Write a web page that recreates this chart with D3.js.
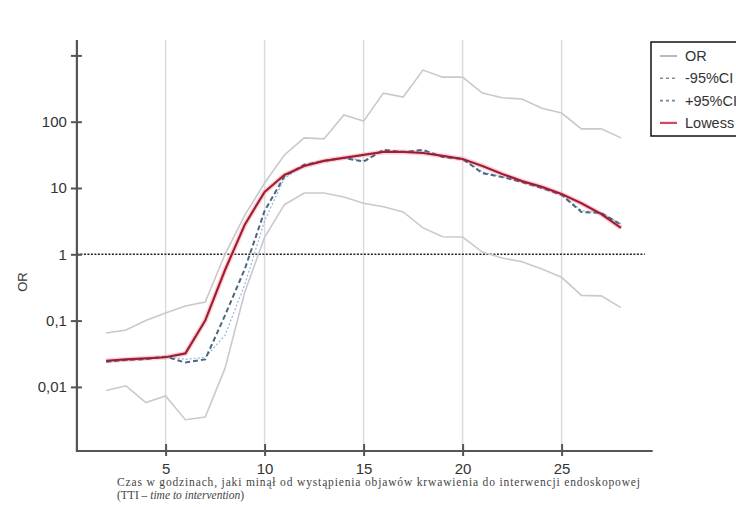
<!DOCTYPE html>
<html>
<head>
<meta charset="utf-8">
<script src="https://cdn.jsdelivr.net/npm/d3@7"></script>
<style>
	body { margin: 0; background: #fff; }
	svg text { font-family: "Liberation Sans", Arial, sans-serif; fill: #333; }
	.caption { font-family: "Liberation Serif", "Times New Roman", serif; fill: #444; }
</style>
</head>
<body>
<div id="chart"></div>
<script>

// hours since onset of bleeding
const hours = [2,3,4,5,6,7,8,9,10,11,12,13,14,15,16,17,18,19,20,21,22,23,24,25,26,27,28];

// upper grey band
const upperOR = [0.065,0.072,0.10,0.13,0.166,0.19,1.0,3.9,11.9,31.5,57,55,126,102,270,235,600,470,470,270,230,220,160,135,78,78,57];

// lower grey band
const lowerOR = [0.0088,0.0104,0.0058,0.0073,0.0032,0.0035,0.019,0.27,1.8,5.6,8.4,8.4,7.3,5.9,5.2,4.35,2.5,1.84,1.82,1.08,0.88,0.77,0.6,0.45,0.24,0.236,0.157];

// dashed dark series
const dashedOR = [0.024,0.0255,0.0263,0.0286,0.0233,0.026,0.12,0.6,4.5,15,22.4,25.6,28.5,25,37.5,35,37.5,29.4,27.4,16.8,14.6,12.3,10,7.9,4.35,4.2,2.8];

// dotted light blue series
const dottedOR = [0.024,0.0255,0.0263,0.0286,0.026,0.028,0.06,0.35,3.2,14,22,25.6,28.5,26,36,35,36,30,27.4,17.5,14.8,12.5,10.2,8,4.6,4.2,2.9];

// lowess
const lowess = [0.0248,0.026,0.027,0.028,0.032,0.10,0.58,2.8,8.7,15.7,21.5,25.6,28.5,31.5,35,35,33.7,30.5,27.4,21.5,16.3,12.7,10.4,8.1,5.9,4.05,2.5];

const xTicks = [5,10,15,20,25];
const yTicks = [0.01,0.1,1,10,100,1000];
const yTickLabels = ["0,01","0,1","1","10","100",""];

const legendItems = ["OR","-95%CI","+95%CI","Lowess"];

const w = 736;
const h = 507;

const x = d3.scaleLinear()
	.domain([0,30])
	.range([66.6,660.6]);

const y = d3.scaleLog()
	.domain([0.001,1000])
	.range([453.2,55.4]);

const xStart = 0.52, xEnd = 29.6;
const yTop = 40, yBottom = 451;

const svg = d3.select("#chart")
	.append("svg")
	.attr("width",w)
	.attr("height",h);

// vertical grid
svg.selectAll(".grid")
	.data(xTicks)
	.enter()
	.append("line")
	.attr("class","grid")
	.attr("x1",d=>x(d))
	.attr("x2",d=>x(d))
	.attr("y1",yTop)
	.attr("y2",yBottom)
	.attr("stroke","#dcdcdc")
	.attr("stroke-width",1.5);

// reference line at OR = 1
svg.append("line")
	.attr("x1",x(xStart))
	.attr("x2",x(29.2))
	.attr("y1",y(1))
	.attr("y2",y(1))
	.attr("stroke","#222")
	.attr("stroke-width",1.5)
	.attr("stroke-dasharray","2,1.5");

// lines
const line = vals => d3.line()
	.x((d,i)=>x(hours[i]))
	.y(d=>y(d))(vals);

svg.append("path").attr("d",line(upperOR))
	.attr("fill","none").attr("stroke","#c9c9c9").attr("stroke-width",1.6);
svg.append("path").attr("d",line(lowerOR))
	.attr("fill","none").attr("stroke","#c9c9cf").attr("stroke-width",1.6);

svg.append("path").attr("d",line(lowess))
	.attr("fill","none").attr("stroke","#f4b6bd").attr("stroke-width",5).attr("opacity",0.6);

svg.append("path").attr("d",line(dottedOR))
	.attr("fill","none").attr("stroke","#8fb8dc").attr("stroke-width",1.2)
	.attr("stroke-dasharray","2,2");

svg.append("path").attr("d",line(dashedOR))
	.attr("fill","none").attr("stroke","#4d6680").attr("stroke-width",2)
	.attr("stroke-dasharray","5,3");

svg.append("path").attr("d",line(lowess))
	.attr("fill","none").attr("stroke","#b8223a").attr("stroke-width",2.2);
svg.append("path").attr("d",line(lowess))
	.attr("fill","none").attr("stroke","#5a1a2a").attr("stroke-width",0.8).attr("opacity",0.6);

// y axis
const yAxis = svg.append("g")
	.attr("transform",`translate(${x(xStart)},0)`)
	.call(d3.axisLeft(y).tickValues(yTicks).tickSize(6).tickPadding(4)
		.tickFormat((d,i)=>yTickLabels[i]));
yAxis.select(".domain").remove();
yAxis.selectAll(".tick line").attr("x1",5).attr("x2",-6).attr("stroke","#555").attr("stroke-width",2);
yAxis.selectAll(".tick text").attr("font-size",15).attr("fill","#333")
	.style("font-family","'Liberation Sans', Arial, sans-serif");

svg.append("line")
	.attr("x1",x(xStart)).attr("x2",x(xStart))
	.attr("y1",yTop).attr("y2",yBottom)
	.attr("stroke","#555").attr("stroke-width",2.2);

// x axis
const xAxis = svg.append("g")
	.attr("transform",`translate(0,${yBottom})`)
	.call(d3.axisBottom(x).tickValues(xTicks).tickSize(6).tickPadding(6));
xAxis.select(".domain").remove();
xAxis.selectAll(".tick line").attr("y1",-7).attr("y2",5).attr("stroke","#555").attr("stroke-width",2);
xAxis.selectAll(".tick text").attr("font-size",15).attr("fill","#333")
	.style("font-family","'Liberation Sans', Arial, sans-serif");

svg.append("line")
	.attr("x1",x(xStart)-1).attr("x2",x(xEnd))
	.attr("y1",yBottom).attr("y2",yBottom)
	.attr("stroke","#555").attr("stroke-width",2.2);

// y title
svg.append("text")
	.attr("transform","translate(27,282) rotate(-90)")
	.attr("text-anchor","middle")
	.attr("font-size",13)
	.text("OR");

// caption
svg.append("text")
	.attr("class","caption")
	.attr("x",117).attr("y",486)
	.attr("font-size",11.5)
	.attr("textLength",523).attr("lengthAdjust","spacing")
	.text("Czas w godzinach, jaki minął od wystąpienia objawów krwawienia do interwencji endoskopowej");
const cap2 = svg.append("text")
	.attr("class","caption")
	.attr("x",117).attr("y",499)
	.attr("font-size",11.5);
cap2.append("tspan").text("(TTI – ");
cap2.append("tspan").attr("font-style","italic").text("time to intervention");
cap2.append("tspan").text(")");

// legend
const lg = svg.append("g").attr("transform","translate(651,42)");
lg.append("rect")
	.attr("x",0).attr("y",0)
	.attr("width",100).attr("height",94)
	.attr("fill","#fff").attr("stroke","#111").attr("stroke-width",1.5);

const legendStyles = [
	{stroke:"#b8b8b8",dash:null,width:2},
	{stroke:"#7d90a4",dash:"3,3",width:1.6},
	{stroke:"#6d88a4",dash:"3,3",width:1.6},
	{stroke:"#d2485c",dash:null,width:2.2}
];

const items = lg.selectAll(".lg")
	.data(legendItems)
	.enter()
	.append("g")
	.attr("transform",(d,i)=>`translate(0,${14+i*22.3})`);
items.append("line")
	.attr("x1",9).attr("x2",26)
	.attr("y1",0).attr("y2",0)
	.attr("stroke",(d,i)=>legendStyles[i].stroke)
	.attr("stroke-width",(d,i)=>legendStyles[i].width)
	.attr("stroke-dasharray",(d,i)=>legendStyles[i].dash);
items.append("text")
	.attr("x",34).attr("y",5)
	.attr("font-size",14.5)
	.text(d=>d);

</script>
</body>
</html>
